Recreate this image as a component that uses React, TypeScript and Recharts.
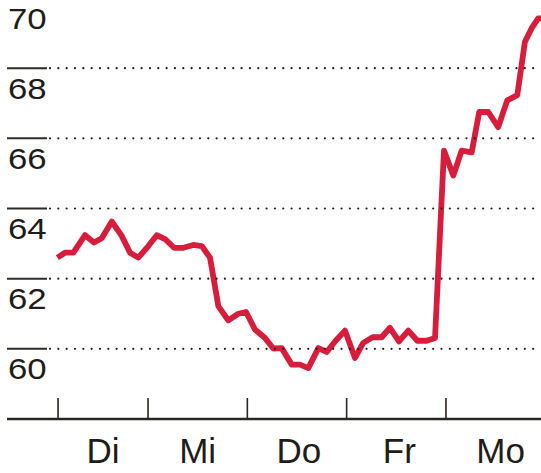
import React from 'react';
import { LineChart, Line, XAxis, YAxis } from 'recharts';

// time in trading days (Mi = 1, Do = 2, ...), price values
const times = [
  0.087, 0.164, 0.248, 0.366, 0.456, 0.534, 0.635, 0.735, 0.819, 0.902,
  1.003, 1.088, 1.171, 1.262, 1.356, 1.456, 1.541, 1.624, 1.708, 1.808,
  1.909, 1.987, 2.077, 2.178, 2.261, 2.346, 2.447, 2.53, 2.614, 2.715,
  2.799, 2.883, 2.983, 3.084, 3.167, 3.262, 3.352, 3.436, 3.527, 3.621,
  3.712, 3.806, 3.89, 3.98, 4.074, 4.158, 4.259, 4.335, 4.426, 4.526,
  4.617, 4.718, 4.795, 4.863, 4.929, 4.996,
];
const values = [
  62.6, 62.74, 62.74, 63.24, 63.03, 63.15, 63.63, 63.22, 62.74, 62.6,
  62.93, 63.24, 63.13, 62.88, 62.88, 62.96, 62.93, 62.6, 61.22, 60.81,
  61.0, 61.05, 60.55, 60.31, 60.01, 60.02, 59.55, 59.55, 59.45, 60.02,
  59.91, 60.21, 60.52, 59.74, 60.17, 60.33, 60.33, 60.6, 60.21, 60.52,
  60.23, 60.23, 60.31, 65.65, 64.94, 65.65, 65.6, 66.75, 66.75, 66.32,
  67.08, 67.23, 68.75, 69.14, 69.42, 69.42,
];

const dayStarts = [0.094, 1, 2, 3, 4];
const dayLabels = ['Di', 'Mi', 'Do', 'Fr', 'Mo'];
const dayLabelPositions = [0.547, 1.5, 2.52, 3.53, 4.55];
const yTicks = [60, 62, 64, 66, 68, 70];
const xDomain = [-0.42, 4.957];
const yDomain = [58, 70];

const data = times.map((t, i) => ({ t, v: values[i] }));

const INK = '#1f1c19';
const FONT = '"Liberation Sans", Arial, Helvetica, sans-serif';

const YTick = (props: any) => {
  const { y, payload } = props;
  return (
    <g>
      <line x1={7} x2={47} y1={y} y2={y} stroke="#2f2b28" strokeWidth={2} />
      <line
        x1={50}
        x2={541}
        y1={y}
        y2={y}
        stroke={INK}
        strokeWidth={2.2}
        strokeDasharray="0 8.33"
        strokeLinecap="round"
      />
      <text
        transform={`translate(8, ${y + 30.5}) scale(1.16, 1)`}
        x={0}
        y={0}
        fontSize={30}
        fontFamily={FONT}
        fill={INK}
        textAnchor="start"
      >
        {payload.value}
      </text>
    </g>
  );
};

const XTick = (props: any) => {
  const { x, y, payload } = props;
  const di = dayStarts.indexOf(payload.value);
  if (di >= 0) {
    return <rect x={x - 0.8} y={y - 21} width={1.6} height={21} fill="#2a2623" />;
  }
  const li = dayLabelPositions.indexOf(payload.value);
  return (
    <text x={x} y={y + 44} fontSize={35} fontFamily={FONT} fill={INK} textAnchor="middle">
      {dayLabels[li]}
    </text>
  );
};

export default function App() {
  return (
    <div style={{ position: 'absolute', left: 0, top: -2, width: 541, height: 475 }}>
      <LineChart
        width={541}
        height={475}
        data={data}
        margin={{ top: 0, right: 0, left: 6, bottom: 0 }}
      >
        <XAxis
          dataKey="t"
          type="number"
          domain={xDomain}
          allowDataOverflow
          ticks={[...dayStarts, ...dayLabelPositions]}
          interval={0}
          tickSize={0}
          tickMargin={0}
          tickLine={false}
          axisLine={{ stroke: '#2a2623', strokeWidth: 2.4 }}
          tick={<XTick />}
          height={54}
        />
        <YAxis
          type="number"
          domain={yDomain}
          allowDataOverflow
          ticks={yTicks}
          interval={0}
          width={1}
          tickSize={0}
          tickMargin={0}
          axisLine={false}
          tickLine={false}
          tick={<YTick />}
        />
        <Line
          type="linear"
          dataKey="v"
          stroke="#d71d3c"
          strokeWidth={5.8}
          strokeLinejoin="round"
          dot={false}
          activeDot={false}
          isAnimationActive={false}
        />
      </LineChart>
    </div>
  );
}
